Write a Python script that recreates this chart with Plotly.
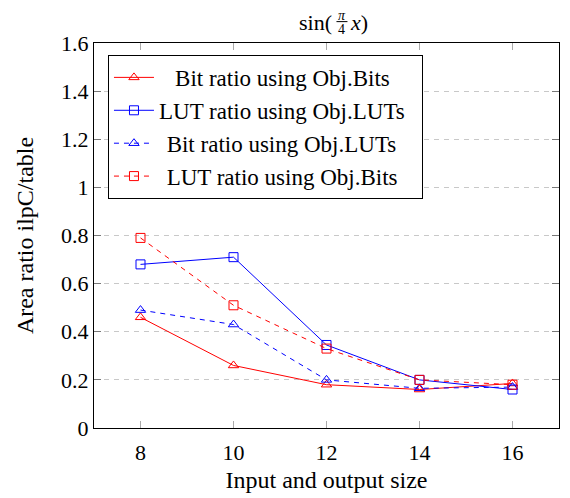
import plotly.graph_objects as go

sizes = [8, 10, 12, 14, 16]
bit_ratio_objbits = [0.46, 0.26, 0.18, 0.16, 0.185]
lut_ratio_objluts = [0.68, 0.71, 0.345, 0.20, 0.16]
bit_ratio_objluts = [0.49, 0.43, 0.20, 0.165, 0.17]
lut_ratio_objbits = [0.79, 0.51, 0.33, 0.20, 0.18]

names = ["Bit ratio using Obj.Bits", "LUT ratio using Obj.LUTs",
         "Bit ratio using Obj.LUTs", "LUT ratio using Obj.Bits"]
y_ticks = [0, 0.2, 0.4, 0.6, 0.8, 1.0, 1.2, 1.4, 1.6]
y_tick_text = ["0", "0.2", "0.4", "0.6", "0.8", "1", "1.2", "1.4", "1.6"]

RED = "rgb(255,0,0)"
BLUE = "rgb(0,0,255)"
FONT = "Liberation Serif"

# plot area in page pixels (the page body adds an 8px offset)
PL, PR, PT, PB = 94, 560, 43, 430


def px(xp):
    return (xp - PL) / (PR - PL)


def py(yp):
    return (PB - yp) / (PB - PT)


fig = go.Figure()
# (values, name, colour, dash, marker, leading pad, trailing pad) -> centred legend text
series = [
    (bit_ratio_objbits, names[0], RED, "solid", "triangle-up-open", "\u2002\u2009", ""),
    (lut_ratio_objluts, names[1], BLUE, "solid", "square-open", "", "\u2002"),
    (bit_ratio_objluts, names[2], BLUE, "5px,5px", "triangle-up-open", "\u2004", ""),
    (lut_ratio_objbits, names[3], RED, "5px,5px", "square-open", "\u2004", ""),
]
for ys, name, color, dash, sym, pad, tail in series:
    fig.add_trace(go.Scatter(
        x=sizes, y=ys, name=pad + name + tail, mode="lines+markers",
        line=dict(color=color, width=1, dash=dash),
        marker=dict(symbol=sym, size=9, color=color, line=dict(color=color, width=1)),
    ))

# title: sin(pi/4 x) with a stacked fraction
tfont = dict(family=FONT, size=22, color="black")
ffont = dict(family=FONT, size=14, color="black")
fig.add_annotation(text="sin(", x=px(335), y=py(22), xref="paper", yref="paper",
                   xanchor="right", yanchor="middle", showarrow=False, font=tfont)
fig.add_annotation(text="<i>π</i>", x=px(342.5), y=py(15), xref="paper", yref="paper",
                   xanchor="center", yanchor="middle", showarrow=False, font=ffont,
                   borderpad=0)
fig.add_annotation(text="4", x=px(342.5), y=py(29), xref="paper", yref="paper",
                   xanchor="center", yanchor="middle", showarrow=False, font=ffont,
                   borderpad=0)
fig.add_annotation(text="<i>x</i>)", x=px(349), y=py(22), xref="paper", yref="paper",
                   xanchor="left", yanchor="middle", showarrow=False, font=tfont)
fig.add_shape(type="line", xref="paper", yref="paper", x0=px(337), x1=px(348),
              y0=py(21.5), y1=py(21.5), line=dict(color="black", width=1))

fig.update_layout(
    width=562, height=490,
    margin=dict(l=86, r=10, t=35, b=68),
    plot_bgcolor="white", paper_bgcolor="white",
    font=dict(family=FONT, size=22, color="black"),
    showlegend=True,
    legend=dict(x=px(108), y=py(55), xanchor="left", yanchor="top",
                bordercolor="black", borderwidth=1, bgcolor="white",
                font=dict(family=FONT, size=23), tracegroupgap=0, itemwidth=40),
    xaxis=dict(range=[7, 17], tickvals=sizes, ticktext=[str(s) for s in sizes],
               showgrid=False, zeroline=False, showline=True, linecolor="black",
               linewidth=1, mirror="allticks", ticks="inside", ticklen=7,
               tickcolor="rgb(170,170,170)", tickwidth=1, ticklabelstandoff=5,
               tickfont=dict(family=FONT, size=22),
               title=dict(text="Input and output size", standoff=6,
                          font=dict(family=FONT, size=24))),
    yaxis=dict(range=[0, 1.6], tickvals=y_ticks, ticktext=y_tick_text,
               showgrid=True, gridcolor="rgb(200,200,200)", griddash="5px,5px",
               gridwidth=1, zeroline=False, showline=True, linecolor="black",
               linewidth=1, mirror="allticks", ticks="inside", ticklen=7,
               tickcolor="rgb(120,120,120)", tickwidth=1,
               tickfont=dict(family=FONT, size=22),
               title=dict(text="Area ratio ilpC/table", standoff=20,
                          font=dict(family=FONT, size=24))),
)

fig.write_html("out.html")
